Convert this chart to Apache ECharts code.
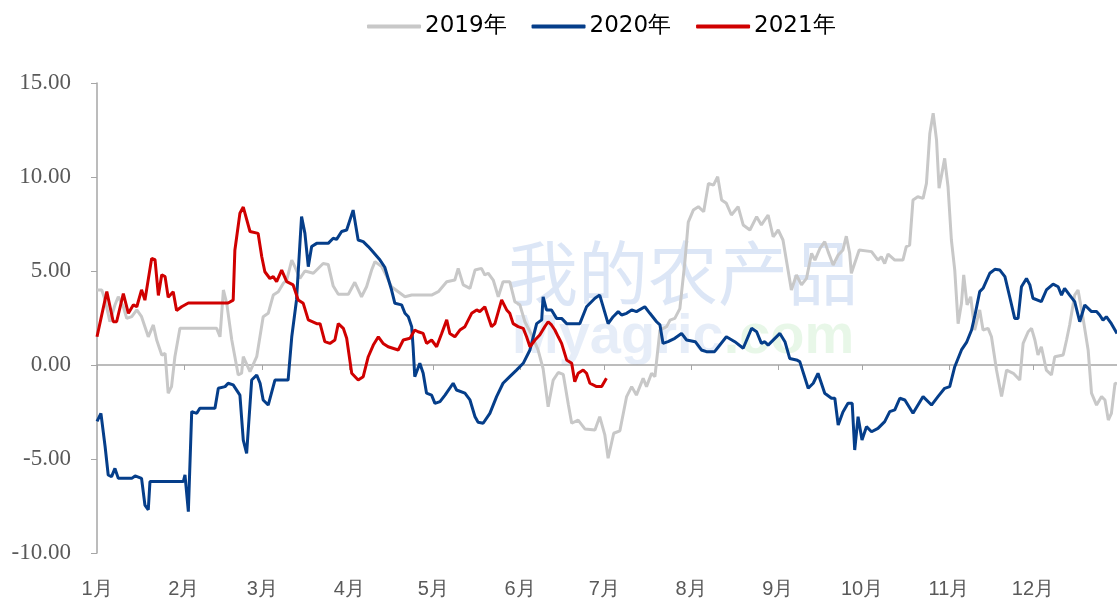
<!DOCTYPE html>
<html>
<head>
<meta charset="utf-8">
<script src="https://cdn.jsdelivr.net/npm/echarts@6/dist/echarts.min.js"></script>
<style>html,body{margin:0;padding:0;background:#fff;}#c{width:1117px;height:605px;}</style>
</head>
<body>
<div id="c"></div>
<script>
// Month labels and month-start day positions (day of year)
var monthLabels = ['1月','2月','3月','4月','5月','6月','7月','8月','9月','10月','11月','12月'];
var monthStarts = [0,31,59,90,120,151,181,212,243,273,304,334];
var seriesNames = ['2019年','2020年','2021年'];

// 2019
var days2019 = [0,1.7,2.9,4.6,6.4,7.6,9.4,10.6,12.4,14.2,15.9,18.3,20.1,21.3,23.1,24.3,25.4,26.6,27.8,29.6,42.7,43.9,45.1,46.3,48.1,50.4,51.6,52.2,54.6,57.0,59.3,61.1,62.9,64.7,66.5,67.7,69.5,70.6,72.4,74.2,77.2,80.7,82.5,84.3,86.1,89.7,92.0,94.4,96.2,98.0,99.2,101.6,103.4,105.1,109.9,112.3,119.4,121.8,124.8,127.7,128.9,130.7,133.1,134.9,137.2,138.4,139.6,141.4,143.2,144.9,147.3,149.1,150.9,152.7,155.1,157.4,159.2,161.0,162.8,164.6,166.4,168.2,169.4,171.7,174.1,177.7,179.4,181.2,182.4,184.4,186.6,189.0,190.8,192.5,194.9,196.1,197.9,199.1,200.9,203.3,204.5,206.2,208.0,209.8,211.0,212.8,214.6,216.5,218.2,220.0,221.5,222.9,224.6,226.4,228.8,230.6,233.0,235.4,237.1,239.5,241.3,243.1,244.8,246.0,247.8,249.6,251.4,253.2,255.0,256.2,258.0,259.7,260.9,262.7,264.5,266.2,267.4,268.6,269.2,272.0,276.4,278.7,279.9,281.1,282.3,284.7,287.6,288.8,290.0,291.2,292.9,294.8,296.0,297.2,298.4,299.6,300.5,301.3,302.5,303.7,304.9,306.1,307.3,308.5,309.3,310.5,311.8,313.2,315.0,316.2,318.0,319.2,321.0,322.8,324.6,327.0,329.3,330.5,332.3,333.5,334.7,335.8,337.0,338.8,340.6,341.8,344.8,346.0,347.1,348.9,350.1,351.9,353.7,354.9,356.7,358.5,359.7,360.9,362.0,363.3,364];
var vals2019 = [3.99,3.99,3.46,2.3,3.19,3.63,3.1,2.48,2.57,2.93,2.57,1.5,2.13,1.33,0.53,0.62,-1.5,-1.15,0.44,1.95,1.95,1.5,3.99,3.28,1.33,-0.53,-0.44,0.44,-0.35,0.44,2.57,2.75,3.72,3.9,4.35,4.52,5.58,5.23,4.6,5.0,4.88,5.4,5.35,4.2,3.76,3.76,4.4,3.63,4.16,5.05,5.5,5.23,4.7,4.16,3.63,3.72,3.72,3.9,4.43,4.52,5.14,4.26,4.08,5.05,5.14,4.79,4.88,4.52,3.63,4.43,4.43,3.37,3.2,2.3,1.6,0.8,-0.2,-2.22,-0.8,-0.4,-0.5,-2.1,-3.1,-2.93,-3.4,-3.46,-2.75,-3.7,-4.96,-3.63,-3.5,-1.68,-1.15,-1.6,-0.71,-1.15,-0.44,-0.62,1.86,2.04,2.39,2.48,3.0,5.5,7.6,8.24,8.42,8.15,9.66,9.57,10.02,8.78,8.6,7.98,8.42,7.45,7.18,7.89,7.45,7.98,6.82,7.18,6.65,5.58,3.99,4.79,4.26,4.61,5.94,5.58,6.2,6.56,6.03,5.32,5.85,6.12,6.85,5.94,4.88,6.12,6.03,5.58,5.76,5.4,5.9,5.58,5.58,6.3,6.38,8.78,8.95,8.86,9.66,12.32,13.39,11.97,9.4,10.02,10.99,9.48,6.65,5.05,2.2,3.28,4.79,3.2,3.63,1.86,2.93,1.86,1.95,1.5,-0.27,-1.68,-0.27,-0.44,-0.8,1.15,1.77,1.95,1.33,0.53,0.97,-0.27,-0.53,0.44,0.53,1.33,2.13,3.72,3.99,2.48,0.8,-1.5,-2.13,-1.68,-1.86,-2.93,-2.57,-0.97,-1.0];

// 2020
var days2020 = [0,1.4,2.9,4.0,5.2,6.4,7.6,12.4,13.6,15.9,17.1,18.3,18.9,30.8,31.4,32.6,33.8,35.6,36.7,42.1,43.3,45.7,46.8,48.6,51.0,52.2,53.4,55.2,57.0,58.2,59.3,61.1,63.5,68.2,69.5,71.2,73.0,74.2,75.4,76.6,78.4,82.5,84.3,85.5,87.3,89.1,91.4,93.2,95.0,96.8,98.0,101.0,102.7,105.1,106.3,108.7,109.9,111.1,112.3,112.8,113.4,115.2,116.4,117.6,119.4,120.6,122.4,124.2,127.1,128.3,131.3,133.1,134.9,136.0,137.8,140.2,142.6,144.9,147.3,149.7,152.1,154.5,156.9,158.7,159.2,160.4,162.2,164.0,165.8,167.6,172.3,174.7,177.7,179.4,182.4,184.2,186.0,187.2,189.0,190.8,192.5,195.5,197.3,199.7,200.9,202.0,203.8,206.2,208.6,210.4,213.5,215.7,217.5,220.4,224.6,227.6,230.6,233.6,235.4,237.1,238.3,239.5,243.7,245.5,247.2,249.6,250.8,253.8,255.6,257.3,259.7,262.1,263.3,264.5,266.2,268.0,269.5,270.4,271.6,273.0,274.6,276.4,278.7,281.1,282.9,284.7,286.5,288.3,291.2,294.8,297.8,300.1,302.5,304.3,306.1,308.5,310.3,312.1,313.2,315.0,316.2,318.6,320.4,322.2,324.0,325.7,327.5,328.7,329.9,331.7,332.9,334.0,337.0,338.8,341.2,343.0,344.2,345.3,347.1,348.9,350.7,352.5,354.9,356.7,357.8,359.0,360.2,362.0,364];
var vals2020 = [-3.0,-2.57,-4.35,-5.85,-5.94,-5.5,-6.03,-6.03,-5.9,-6.03,-7.45,-7.7,-6.2,-6.2,-5.85,-7.8,-2.48,-2.57,-2.3,-2.3,-1.24,-1.15,-0.97,-1.06,-1.6,-4.0,-4.7,-0.8,-0.53,-0.97,-1.86,-2.13,-0.8,-0.8,1.5,3.46,7.9,7.0,5.23,6.3,6.47,6.47,6.74,6.68,7.1,7.18,8.24,6.65,6.56,6.3,6.1,5.58,5.2,4.0,3.28,3.2,2.75,2.57,2.04,0.97,-0.62,0.09,-0.44,-1.5,-1.6,-2.04,-1.95,-1.6,-0.97,-1.33,-1.5,-1.86,-2.75,-3.05,-3.1,-2.57,-1.68,-0.97,-0.62,-0.27,0.09,0.8,2.2,2.4,3.63,2.93,2.93,2.48,2.48,2.2,2.2,3.1,3.55,3.72,2.2,2.57,2.84,2.66,2.75,2.93,2.84,3.1,2.75,2.3,2.13,1.15,1.24,1.42,1.68,1.33,1.24,0.8,0.71,0.71,1.5,1.24,0.89,1.95,1.77,1.15,1.24,1.06,1.68,1.24,0.35,0.27,0.18,-1.24,-0.97,-0.44,-1.5,-1.77,-1.77,-3.19,-2.5,-2.04,-2.04,-4.52,-2.75,-3.99,-3.28,-3.55,-3.37,-3.01,-2.48,-2.39,-1.77,-1.86,-2.57,-1.68,-2.13,-1.68,-1.24,-1.15,-0.09,0.8,1.2,1.86,2.57,3.9,4.08,4.88,5.09,5.05,4.7,3.63,2.48,2.48,4.16,4.6,4.26,3.55,3.37,3.99,4.3,4.16,3.72,4.08,3.72,3.37,2.3,3.19,2.84,2.84,2.66,2.39,2.57,2.2,1.68];

// 2021
var days2021 = [0,3.5,5.8,7.0,9.4,11.2,13.0,14.2,15.9,17.1,19.5,20.7,21.9,23.1,24.3,25.4,27.2,28.4,30.2,32.6,46.8,48.6,49.2,51.0,52.2,54.6,57.5,58.8,59.9,61.7,62.9,64.1,65.9,67.7,70.0,71.8,73.6,75.4,78.4,79.6,81.3,83.1,84.9,86.1,87.9,89.1,90.9,93.2,95.0,96.8,98.6,100.4,102.1,103.9,107.5,109.3,111.7,113.4,114.6,116.4,117.6,119.4,121.2,123.0,124.8,125.9,127.7,129.5,131.3,133.7,135.5,136.6,138.4,140.8,142.0,144.4,146.2,147.3,148.5,150.3,152.1,153.3,154.5,156.3,158.0,159.8,161.0,162.2,163.4,164.6,165.8,167.6,169.4,170.5,171.7,173.5,174.7,175.9,178.3,180.1,181.8];
var vals2021 = [1.5,3.9,2.3,2.3,3.8,2.75,3.2,3.1,4.0,3.45,5.67,5.6,3.7,4.8,4.7,3.6,3.9,2.9,3.1,3.3,3.3,3.45,6.1,8.07,8.4,7.1,7.0,5.76,4.96,4.6,4.7,4.43,5.05,4.43,4.26,3.46,3.28,2.4,2.2,2.2,1.24,1.15,1.33,2.2,1.95,1.42,-0.44,-0.8,-0.62,0.44,1.06,1.5,1.15,0.97,0.8,1.33,1.42,1.86,1.77,1.68,1.15,1.33,0.97,1.68,2.4,1.68,1.5,1.86,2.04,2.75,2.93,2.84,3.1,2.04,2.2,3.46,2.93,2.75,2.2,2.04,1.95,1.5,0.97,1.33,1.6,2.04,2.3,2.13,1.86,1.5,1.15,0.27,0.09,-0.89,-0.44,-0.27,-0.44,-0.97,-1.15,-1.15,-0.71];

var yTicks = [-10, -5, 0, 5, 10, 15];

function zip(d, v) { return d.map(function (x, i) { return [x, v[i]]; }); }

var chart = echarts.init(document.getElementById('c'), null, { renderer: 'canvas' });
var lineCommon = { type: 'line', showSymbol: false, symbol: 'none', smooth: false, z: 3 };
var colors = ['#C8C8C8', '#053E8A', '#D00000'];

chart.setOption({
  animation: false,
  color: colors,
  legend: {
    top: 10,
    left: 362,
    itemWidth: 54,
    itemHeight: 4,
    itemGap: 25,
    icon: 'roundRect',
    textStyle: { fontFamily: 'DejaVu Sans, sans-serif', fontSize: 23, color: '#000', padding: [0, 0, 0, -1] },
    data: seriesNames
  },
  graphic: [
    { type: 'text', left: 508, top: 238, z: 0, silent: true,
      style: { text: '我的农产品', fontSize: 70, fontFamily: 'Noto Sans CJK SC', fill: 'rgba(120,160,220,0.26)' } },
    { type: 'text', left: 512, top: 310, z: 0, silent: true,
      style: {
        text: '{a|Myagric}{b|.com}',
        rich: {
          a: { fontSize: 56, fontWeight: 'bold', fontFamily: 'Liberation Sans', fill: 'rgba(140,175,225,0.22)', color: 'rgba(140,175,225,0.22)' },
          b: { fontSize: 56, fontWeight: 'bold', fontFamily: 'Liberation Sans', fill: 'rgba(150,220,150,0.22)', color: 'rgba(150,220,150,0.22)' }
        }
      } }
  ],
  grid: { left: 97, right: 0, top: 83, bottom: 52, containLabel: false },
  xAxis: [
    {
      type: 'value', min: 0, max: 364, position: 'bottom',
      axisLine: { show: true, onZero: true, lineStyle: { color: '#A6A6A6', width: 1.5 } },
      axisTick: { show: true, length: 5, lineStyle: { color: '#A6A6A6' }, customValues: monthStarts },
      axisLabel: { show: false },
      splitLine: { show: false }
    },
    {
      type: 'value', min: 0, max: 364, position: 'bottom',
      axisLine: { show: false, onZero: false },
      axisTick: { show: false },
      axisLabel: {
        show: true, margin: 26, fontSize: 20, color: '#595959',
        fontFamily: 'Liberation Sans, Arial, sans-serif',
        customValues: monthStarts,
        formatter: function (v) { var i = monthStarts.indexOf(Math.round(v)); return i >= 0 ? monthLabels[i] : ''; }
      },
      splitLine: { show: false }
    }
  ],
  yAxis: {
    type: 'value', min: -10, max: 15, interval: 5,
    axisLine: { show: true, lineStyle: { color: '#A6A6A6', width: 1.5 } },
    axisTick: { show: true, length: 6, lineStyle: { color: '#A6A6A6' }, customValues: yTicks },
    axisLabel: {
      margin: 26, fontSize: 23, color: '#595959',
      fontFamily: 'Liberation Serif, Times New Roman, serif',
      customValues: yTicks,
      formatter: function (v) { return v.toFixed(2); }
    },
    splitLine: { show: false }
  },
  series: [
    Object.assign({}, lineCommon, { name: seriesNames[0], data: zip(days2019, vals2019), lineStyle: { width: 3, color: colors[0] } }),
    Object.assign({}, lineCommon, { name: seriesNames[1], data: zip(days2020, vals2020), lineStyle: { width: 3, color: colors[1] } }),
    Object.assign({}, lineCommon, { name: seriesNames[2], data: zip(days2021, vals2021), lineStyle: { width: 3, color: colors[2] } })
  ]
});
</script>
</body>
</html>
